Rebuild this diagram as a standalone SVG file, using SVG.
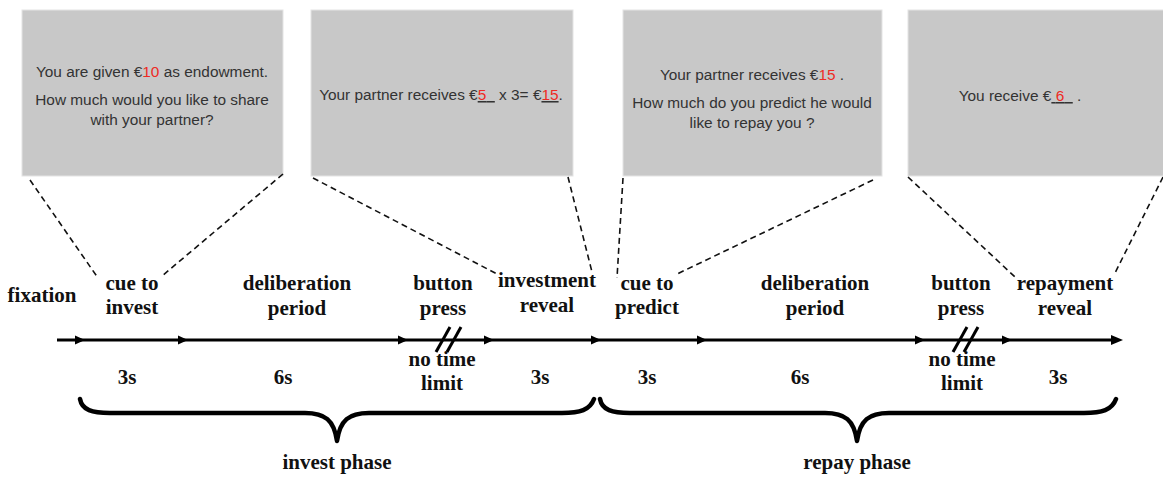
<svg xmlns="http://www.w3.org/2000/svg" width="1163" height="480" viewBox="0 0 1163 480">
<style>
.box{fill:#c8c8c8;stroke:#e4e4e4;stroke-width:1}
.bt{font-family:"Liberation Sans","Noto Sans",Arial,sans-serif;font-size:15.4px;fill:#333;text-anchor:middle}
.red{fill:#ee2a24}
.ul{text-decoration:underline;fill:#333}
.lb{font-family:"Liberation Serif","Times New Roman",serif;font-weight:bold;font-size:21px;fill:#111;text-anchor:middle}
.dash{stroke:#111;stroke-width:1.6;stroke-dasharray:6 4;fill:none}
.tl{stroke:#000;stroke-width:3;fill:none}
.brace{stroke:#000;stroke-width:4.5;fill:none;stroke-linecap:round;stroke-linejoin:round}
.ah{fill:#000}
</style>
<rect width="1163" height="480" fill="#fff"/>

<g id="screen-invest">
<rect class="box" x="22" y="10" width="261" height="166"/>
<text class="bt" x="152" y="77">You are given €<tspan class="red">10</tspan> as endowment.</text>
<text class="bt" x="152" y="105">How much would you like to share</text>
<text class="bt" x="152" y="125">with your partner?</text>
</g>

<g id="screen-invest-reveal">
<rect class="box" x="311" y="10" width="262" height="166"/>
<text class="bt" x="441" y="100">Your partner receives €<tspan class="ul"><tspan class="red">5</tspan>&#160;&#160;</tspan> x 3= €<tspan class="ul"><tspan class="red">15</tspan></tspan>.</text>
</g>

<g id="screen-predict">
<rect class="box" x="623" y="10" width="259" height="166"/>
<text class="bt" x="752" y="80">Your partner receives €<tspan class="red">15</tspan> .</text>
<text class="bt" x="752" y="108">How much do you predict he would</text>
<text class="bt" x="752" y="128">like to repay you ?</text>
</g>

<g id="screen-repay-reveal">
<rect class="box" x="908" y="10" width="256" height="166"/>
<text class="bt" x="1020" y="101">You receive €<tspan class="ul">&#160;<tspan class="red">6</tspan>&#160;&#160;</tspan> .</text>
</g>

<g id="connectors">
<line class="dash" x1="30" y1="180" x2="98" y2="278"/>
<line class="dash" x1="283" y1="174" x2="162" y2="276"/>
<line class="dash" x1="313" y1="178" x2="497" y2="274"/>
<line class="dash" x1="568" y1="177" x2="592" y2="272"/>
<line class="dash" x1="623" y1="178" x2="617" y2="278"/>
<line class="dash" x1="873" y1="180" x2="675" y2="275"/>
<line class="dash" x1="908" y1="177" x2="1015" y2="277"/>
<line class="dash" x1="1163" y1="177" x2="1115" y2="273"/>

<line class="tl" x1="57" y1="340" x2="1115" y2="340"/>
<polygon class="ah" points="85,340 75,335.5 75,344.5"/>
<polygon class="ah" points="188,340 178,335.5 178,344.5"/>
<polygon class="ah" points="408,340 398,335.5 398,344.5"/>
<polygon class="ah" points="494,340 484,335.5 484,344.5"/>
<polygon class="ah" points="601,340 591,335.5 591,344.5"/>
<polygon class="ah" points="707,340 697,335.5 697,344.5"/>
<polygon class="ah" points="925,340 915,335.5 915,344.5"/>
<polygon class="ah" points="1012,340 1002,335.5 1002,344.5"/>
<polygon class="ah" points="1123,340 1111,335 1111,345"/>

<line x1="436" y1="352" x2="450" y2="327" stroke="#000" stroke-width="3"/>
<line x1="447" y1="352" x2="461" y2="327" stroke="#000" stroke-width="3"/>
<line x1="953" y1="352" x2="967" y2="327" stroke="#000" stroke-width="3"/>
<line x1="964" y1="352" x2="978" y2="327" stroke="#000" stroke-width="3"/>

<path class="brace" d="M80,399 C82,410 92,413 110,413 L305,413 C325,413 334,420 337,441 C340,420 349,413 369,413 L562,413 C580,413 590,410 594,399"/>
<path class="brace" d="M600,399 C602,410 612,413 630,413 L825,413 C845,413 854,420 857,441 C860,420 869,413 889,413 L1084,413 C1102,413 1112,410 1116,399"/>
</g>

<g id="labels">
<text class="lb" x="42" y="302">fixation</text>
<text class="lb" x="132" y="290">cue to</text>
<text class="lb" x="132" y="314">invest</text>
<text class="lb" x="297" y="290">deliberation</text>
<text class="lb" x="297" y="315">period</text>
<text class="lb" x="443" y="290">button</text>
<text class="lb" x="443" y="315">press</text>
<text class="lb" x="547" y="287">investment</text>
<text class="lb" x="547" y="312">reveal</text>
<text class="lb" x="647" y="290">cue to</text>
<text class="lb" x="647" y="314">predict</text>
<text class="lb" x="815" y="290">deliberation</text>
<text class="lb" x="815" y="315">period</text>
<text class="lb" x="961" y="290">button</text>
<text class="lb" x="961" y="315">press</text>
<text class="lb" x="1065" y="290">repayment</text>
<text class="lb" x="1065" y="315">reveal</text>

<text class="lb" x="127" y="384">3s</text>
<text class="lb" x="283" y="384">6s</text>
<text class="lb" x="442" y="366">no time</text>
<text class="lb" x="442" y="390">limit</text>
<text class="lb" x="540" y="384">3s</text>
<text class="lb" x="647" y="384">3s</text>
<text class="lb" x="800" y="384">6s</text>
<text class="lb" x="962" y="366">no time</text>
<text class="lb" x="962" y="390">limit</text>
<text class="lb" x="1058" y="384">3s</text>

<text class="lb" x="337" y="469">invest phase</text>
<text class="lb" x="857" y="469">repay phase</text>
</g>
</svg>
